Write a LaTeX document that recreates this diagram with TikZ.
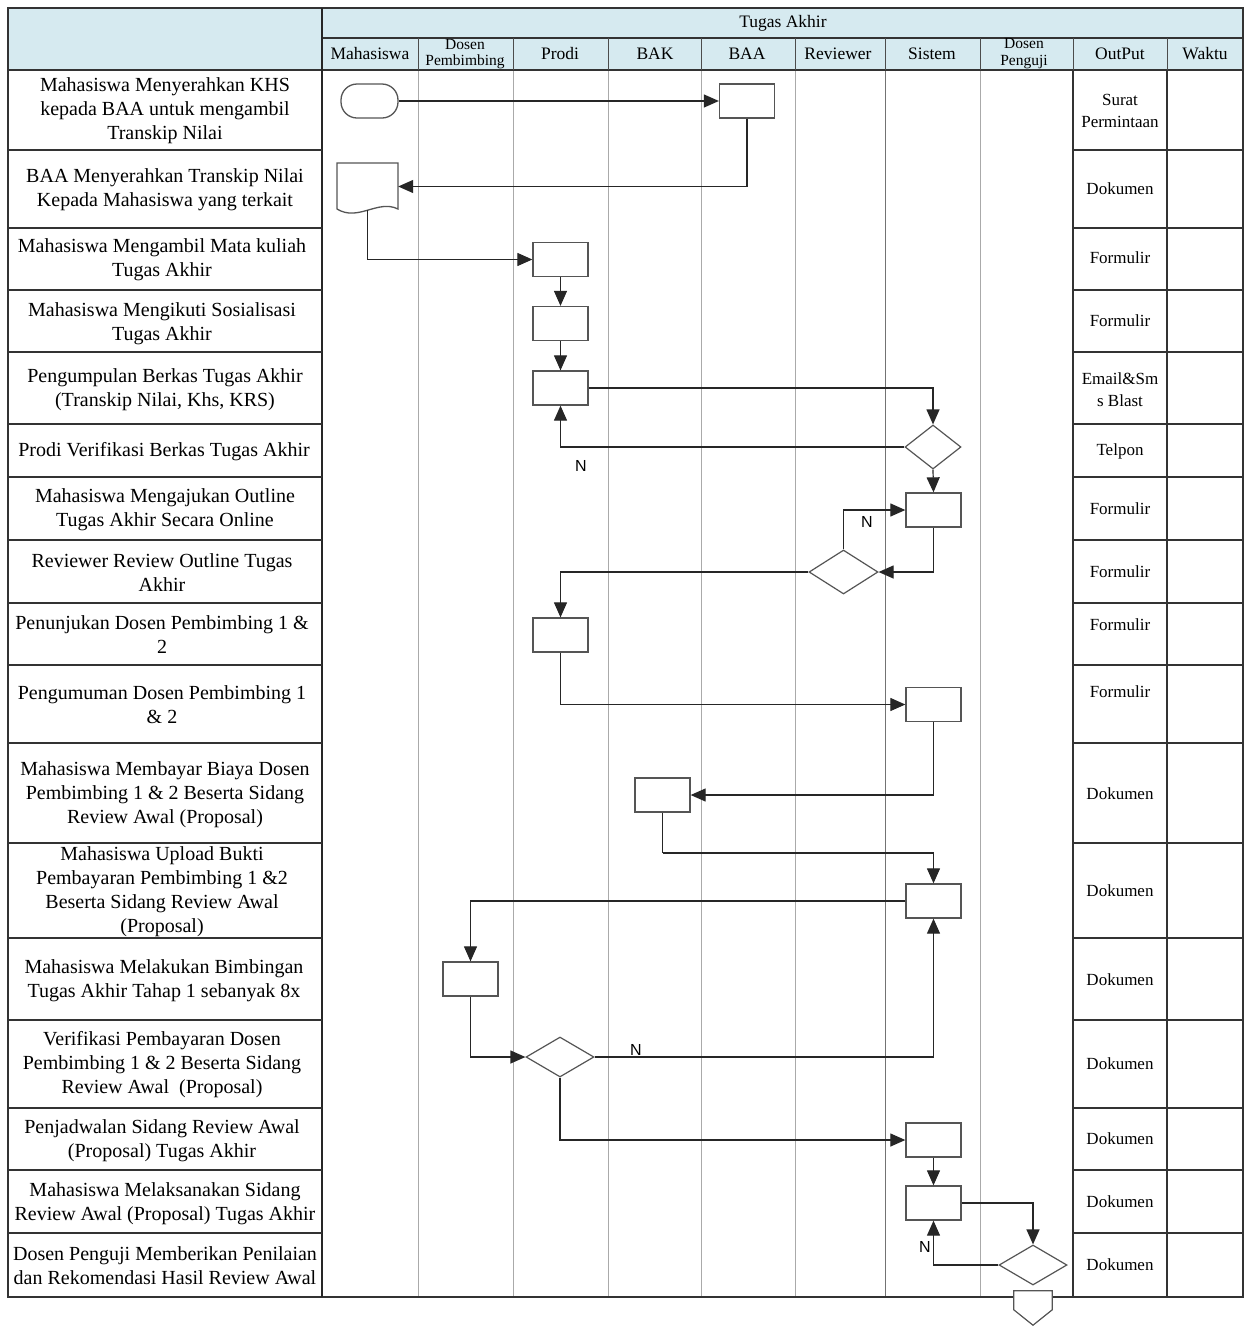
\documentclass[tikz,border=0pt]{standalone}
\usepackage{fontspec}
\setmainfont{Liberation Serif}
\newfontfamily\arialfont{Liberation Sans}
\usetikzlibrary{arrows.meta,shapes.geometric,calc}
\definecolor{hdr}{RGB}{214,234,240}
\definecolor{lanec}{RGB}{170,170,170}
\definecolor{shp}{RGB}{85,85,85}
\begin{document}
\begin{tikzpicture}[x=1pt,y=-1pt,
  tbl/.style={line width=1.2pt,draw=black!80},
  lanel/.style={line width=0.9pt,draw=lanec},
  box/.style={draw=shp,line width=1.3pt,fill=white,minimum width=55pt,minimum height=34pt,inner sep=0pt},
  dec/.style={diamond,draw=shp,line width=1.2pt,fill=white,inner sep=0pt},
  conn/.style={draw=black!85,line width=1.2pt,-{Triangle[length=15pt,width=13pt]}},
  plain/.style={draw=black!85,line width=1.2pt},
  lbl/.style={font=\fontsize{20}{24}\selectfont,align=center,inner sep=0pt},
  hd/.style={font=\fontsize{17.5}{18}\selectfont,inner sep=0pt},
  hds/.style={font=\fontsize{15.5}{16}\selectfont,inner sep=0pt},
  outt/.style={font=\fontsize{17}{22}\selectfont,align=center,inner sep=0pt},
  nl/.style={font=\arialfont\fontsize{16}{18}\selectfont,inner sep=0pt}]
\useasboundingbox (0,0) rectangle (1251,1326);
\fill[white] (0,0) rectangle (1251,1326);
% header
\fill[hdr] (8,8) rectangle (1243,70);
% lane lines
\foreach \x in {418,513,608,701,795,980} \draw[lanel] (\x,70) -- (\x,1297);
\draw[line width=1pt,draw=black!55] (885,70) -- (885,1297);
% header borders
\draw[tbl] (8,8) rectangle (1243,70);
\draw[tbl] (322,38) -- (1243,38);
\foreach \x in {418,513,608,701,795,885,980,1073,1167} \draw[line width=1pt,draw=black!70] (\x,38) -- (\x,70);
% table
\draw[tbl] (8,70) -- (8,1297) -- (1243,1297) -- (1243,70);
\draw[line width=1.5pt,draw=black!85] (322,8) -- (322,1297);
\draw[tbl] (1073,70) -- (1073,1297);
\draw[tbl] (1167,70) -- (1167,1297);
\foreach \y in {150,228,290,352,424,477,540,603,665,743,843,938,1020,1108,1170,1233}
  \draw[tbl] (8,\y) -- (322,\y) (1073,\y) -- (1243,\y);
% header labels
\node[hd] (hta) at (783,23) {Tugas Akhir};
\node[hd] (hmhs) at (370,54) {Mahasiswa};
\node[hds] (hdp1) at (465,44) {Dosen};
\node[hds] (hdp2) at (465,62) {Pembimbing};
\node[hd] (hprodi) at (560,54) {Prodi};
\node[hd] (hbak) at (655,54) {BAK};
\node[hd] (hbaa) at (747,54) {BAA};
\node[hd] (hrev) at (838,54) {Reviewer};
\node[hd] (hsis) at (932,54) {Sistem};
\node[hds] (hpg1) at (1024,43) {Dosen};
\node[hds] (hpg2) at (1024,62) {Penguji};
\node[hd] (hout) at (1120,54) {OutPut};
\node[hd] (hwak) at (1205,54) {Waktu};
% left labels
\node[lbl] (l1) at (165,111) {Mahasiswa Menyerahkan KHS\\kepada BAA untuk mengambil\\Transkip Nilai};
\node[lbl] (l2) at (165,190) {BAA Menyerahkan Transkip Nilai\\Kepada Mahasiswa yang terkait};
\node[lbl] (l3) at (162,260) {Mahasiswa Mengambil Mata kuliah\\Tugas Akhir};
\node[lbl] (l4) at (162,324) {Mahasiswa Mengikuti Sosialisasi\\Tugas Akhir};
\node[lbl] (l5) at (165,390) {Pengumpulan Berkas Tugas Akhir\\(Transkip Nilai, Khs, KRS)};
\node[lbl] (l6) at (164,452) {Prodi Verifikasi Berkas Tugas Akhir};
\node[lbl] (l7) at (165,510) {Mahasiswa Mengajukan Outline\\Tugas Akhir Secara Online};
\node[lbl] (l8) at (162,573) {Reviewer Review Outline Tugas\\Akhir};
\node[lbl] (l9) at (162,635) {Penunjukan Dosen Pembimbing 1 \&\\2};
\node[lbl] (l10) at (162,705) {Pengumuman Dosen Pembimbing 1\\\& 2};
\node[lbl] (l11) at (165,795) {Mahasiswa Membayar Biaya Dosen\\Pembimbing 1 \& 2 Beserta Sidang\\Review Awal (Proposal)};
\node[lbl] (l12) at (162,892) {Mahasiswa Upload Bukti\\Pembayaran Pembimbing 1 \&2\\Beserta Sidang Review Awal\\(Proposal)};
\node[lbl] (l13) at (164,981) {Mahasiswa Melakukan Bimbingan\\Tugas Akhir Tahap 1 sebanyak 8x};
\node[lbl] (l14) at (162,1065) {Verifikasi Pembayaran Dosen\\Pembimbing 1 \& 2 Beserta Sidang\\Review Awal\ \ (Proposal)};
\node[lbl] (l15) at (162,1141) {Penjadwalan Sidang Review Awal\\(Proposal) Tugas Akhir};
\node[lbl] (l16) at (165,1204) {Mahasiswa Melaksanakan Sidang\\Review Awal (Proposal) Tugas Akhir};
\node[lbl] (l17) at (165,1266) {Dosen Penguji Memberikan Penilaian\\dan Rekomendasi Hasil Review Awal};
% output labels
\node[outt] (o1) at (1120,111) {Surat\\Permintaan};
\node[outt] (o2) at (1120,189) {Dokumen};
\node[outt] (o3) at (1120,258) {Formulir};
\node[outt] (o4) at (1120,321) {Formulir};
\node[outt] (o5) at (1120,390) {Email\&Sm\\s Blast};
\node[outt] (o6) at (1120,451) {Telpon};
\node[outt] (o7) at (1120,509) {Formulir};
\node[outt] (o8) at (1120,572) {Formulir};
\node[outt] (o9) at (1120,625) {Formulir};
\node[outt] (o10) at (1120,692) {Formulir};
\node[outt] (o11) at (1120,794) {Dokumen};
\node[outt] (o12) at (1120,891) {Dokumen};
\node[outt] (o13) at (1120,980) {Dokumen};
\node[outt] (o14) at (1120,1064) {Dokumen};
\node[outt] (o15) at (1120,1139) {Dokumen};
\node[outt] (o16) at (1120,1202) {Dokumen};
\node[outt] (o17) at (1120,1265) {Dokumen};
% flow shapes
\node[box,rounded corners=16pt,minimum width=57pt] (start) at (369.5,101) {};
\node[box] (baa1) at (747,101) {};
\node[inner sep=0pt,minimum width=61pt,minimum height=47pt] (doc) at (367.5,186.5) {};
\draw[draw=shp,line width=1.3pt,fill=white] (337,163) -- (398,163) -- (398,209)
  .. controls (378,199) and (358,222) .. (337,209) -- cycle;
\node[box] (p1) at (560.5,259.5) {};
\node[box] (p2) at (560.5,323.5) {};
\node[box] (p3) at (560.5,388) {};
\node[dec,minimum width=56pt,minimum height=44pt] (d1) at (933,447) {};
\node[box] (s1) at (933.5,510) {};
\node[dec,minimum width=69pt,minimum height=44pt] (d2) at (843.5,572) {};
\node[box] (p4) at (560.5,635) {};
\node[box] (s2) at (933.5,704.5) {};
\node[box] (k1) at (662.5,795) {};
\coordinate (k1b) at (662.5,853);
\node[box] (s3) at (933.5,901) {};
\node[box] (dp1) at (470.5,979) {};
\node[dec,minimum width=68pt,minimum height=40pt] (d3) at (560,1057) {};
\node[box] (s4) at (933.5,1140) {};
\node[box] (s5) at (933.5,1203) {};
\node[dec,minimum width=68pt,minimum height=40pt] (d4) at (1033,1265) {};
\node[inner sep=0pt,minimum width=38pt,minimum height=34pt] (off) at (1033,1308) {};
\draw[draw=shp,line width=1.2pt,fill=white] (off.north west) -- (off.north east) -- ($(off.north east)+(0,19)$) -- (off.south) -- ($(off.north west)+(0,19)$) -- cycle;
% connectors
\draw[conn] (start.east) -- (baa1.west);
\draw[conn] (baa1.south) |- (doc.east);
\draw[conn] (doc.south) |- (p1.west);
\draw[conn] (p1.south) -- (p2.north);
\draw[conn] (p2.south) -- (p3.north);
\draw[conn] (p3.east) -| (d1.north);
\draw[conn] (d1.west) -| (p3.south);
\draw[conn] (d1.south) -- (s1.north);
\draw[conn] (s1.south) |- (d2.east);
\draw[conn] (d2.north) |- (s1.west);
\draw[conn] (d2.west) -| (p4.north);
\draw[conn] (p4.south) |- (s2.west);
\draw[conn] (s2.south) |- (k1.east);
\draw[plain] (k1.south) -- (k1b);
\draw[conn] (k1b) -| (s3.north);
\draw[conn] (s3.west) -| (dp1.north);
\draw[conn] (dp1.south) |- (d3.west);
\draw[conn] (d3.east) -| (s3.south);
\draw[conn] (d3.south) |- (s4.west);
\draw[conn] (s4.south) -- (s5.north);
\draw[conn] (s5.east) -| (d4.north);
\draw[conn] (d4.west) -| (s5.south);
% N labels
\node[nl] (n1) at (581,466) {N};
\node[nl] (n2) at (867,522) {N};
\node[nl] (n3) at (636,1050) {N};
\node[nl] (n4) at (925,1247) {N};
\end{tikzpicture}
\end{document}
